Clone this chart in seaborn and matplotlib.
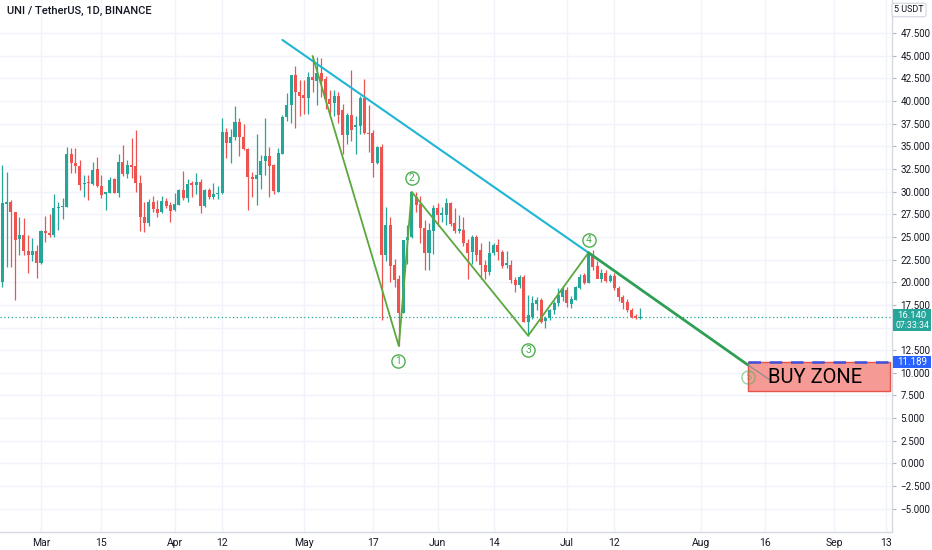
import matplotlib
matplotlib.use("Agg")
import matplotlib.pyplot as plt
import matplotlib.dates as mdates
from matplotlib.patches import Rectangle
import numpy as np
import pandas as pd
import seaborn as sns

# Daily candles UNI / USDT, first candle on 2021-02-20
start = "2021-02-20"
opens = [20.06, 28.6, 28.8, 27.7, 24.8, 25.2, 23.5, 23.0, 23.5, 22.1,
         25.7, 25.45, 25.2, 28.2, 28.3, 28.3, 34.2, 33.2, 32.8, 30.8,
         30.95, 30.85, 32.5, 30.6, 29.7, 29.9, 31.35, 29.8, 33.3, 31.9,
         32.9, 32.8, 30.95, 27.2, 26.5, 28.8, 28.1, 27.7, 29.0, 28.5,
         27.95, 28.55, 30.2, 29.3, 30.95, 30.7, 31.1, 28.45, 30.2, 29.45,
         29.7, 29.8, 36.6, 35.4, 36.0, 37.7, 36.05, 34.7, 31.65, 31.35,
         31.8, 33.4, 33.9, 32.9, 30.0, 34.2, 38.2, 39.55, 42.9, 41.0,
         40.7, 40.3, 42.65, 42.25, 43.05, 42.4, 40.2, 39.75, 40.5, 39.0,
         36.25, 38.45, 37.1, 37.25, 40.3, 36.5, 36.5, 33.2, 34.95, 23.0,
         26.3, 21.9, 20.3, 16.65, 24.65, 25.0, 29.45, 28.6, 25.95, 23.2,
         25.6, 28.15, 27.4, 27.4, 28.7, 26.5, 25.6, 25.75, 24.3, 23.35,
         25.0, 23.55, 21.9, 21.15, 23.25, 24.1, 23.35, 21.9, 21.9, 20.25,
         19.7, 20.6, 15.65, 16.2, 17.65, 18.0, 15.75, 16.0, 16.9, 17.7,
         18.4, 19.15, 17.6, 18.05, 19.35, 20.8, 19.95, 23.0, 21.8, 20.3,
         20.98, 20.17, 20.68, 19.4, 18.4, 17.85, 16.93, 16.27, 16.0]
highs = [32.9, 32.2, 29.1, 27.8, 27.2, 27.1, 25.2, 24.9, 24.1, 25.8,
         27.3, 27.5, 29.7, 28.8, 29.3, 34.9, 34.8, 34.8, 33.5, 31.8,
         31.8, 33.3, 33.8, 31.8, 30.0, 31.6, 31.5, 34.2, 35.1, 33.5,
         35.9, 36.8, 31.8, 28.9, 29.2, 29.5, 29.1, 29.5, 29.3, 28.9,
         29.9, 30.3, 32.3, 31.4, 31.2, 32.1, 31.35, 30.3, 30.4, 31.0,
         30.6, 38.1, 37.0, 36.9, 39.4, 38.1, 37.5, 34.8, 32.2, 36.4,
         34.0, 38.1, 34.9, 33.1, 34.8, 38.5, 40.9, 42.9, 43.9, 42.3,
         42.3, 43.2, 44.97, 44.9, 44.8, 42.8, 41.2, 41.2, 41.0, 39.7,
         38.7, 43.4, 38.3, 40.55, 42.4, 39.55, 36.8, 35.05, 35.3, 28.3,
         27.2, 22.6, 20.8, 24.7, 26.3, 29.99, 29.99, 29.5, 26.85, 26.55,
         28.5, 28.7, 28.3, 29.25, 28.9, 28.15, 27.4, 27.2, 24.8, 25.2,
         25.2, 24.3, 22.5, 24.5, 24.3, 24.75, 23.6, 23.4, 22.5, 20.6,
         20.8, 20.8, 18.6, 18.5, 18.4, 18.3, 16.3, 17.0, 17.9, 19.4,
         19.5, 19.5, 18.5, 19.6, 20.9, 21.0, 23.26, 23.6, 22.3, 21.5,
         21.3, 20.9, 21.0, 19.6, 18.6, 18.2, 17.2, 16.5, 17.1]
lows = [19.5, 21.7, 21.7, 18.0, 23.0, 23.0, 21.0, 22.3, 20.5, 22.0,
        24.4, 25.0, 25.0, 25.8, 27.0, 28.3, 32.0, 32.1, 30.2, 29.4,
        29.1, 30.7, 30.5, 29.3, 28.0, 29.8, 29.8, 29.4, 31.7, 31.5,
        31.5, 30.0, 25.6, 25.5, 26.2, 27.8, 27.2, 27.6, 28.2, 26.6,
        27.9, 28.5, 29.1, 28.9, 29.4, 29.7, 27.6, 28.3, 29.2, 29.2,
        29.2, 29.75, 33.7, 33.2, 35.7, 33.9, 34.6, 28.0, 29.4, 28.5,
        30.3, 31.85, 29.4, 29.7, 29.95, 34.1, 37.8, 37.6, 37.0, 38.3,
        38.6, 38.6, 41.0, 39.6, 40.4, 39.1, 38.6, 38.4, 37.6, 34.1,
        35.3, 35.6, 34.1, 36.4, 36.4, 34.4, 31.6, 33.0, 15.8, 22.3,
        20.0, 19.5, 12.95, 16.6, 22.0, 24.9, 27.7, 24.3, 21.4, 21.3,
        23.1, 26.15, 26.6, 26.3, 26.15, 25.4, 25.4, 23.95, 20.4, 22.0,
        22.3, 20.35, 20.35, 20.75, 23.0, 22.5, 21.6, 21.6, 19.9, 18.9,
        19.35, 15.6, 14.1, 15.9, 16.9, 15.5, 14.9, 15.8, 16.5, 17.4,
        17.9, 17.3, 17.2, 18.0, 19.2, 19.8, 19.95, 21.4, 20.5, 20.0,
        20.0, 20.0, 19.1, 17.9, 17.0, 16.7, 16.0, 15.9, 15.9]
closes = [28.7, 28.8, 27.7, 24.66, 25.2, 23.4, 23.0, 23.5, 22.1, 25.7,
          25.4, 25.2, 28.2, 28.3, 28.4, 34.2, 33.2, 32.8, 30.7, 30.95,
          30.9, 32.4, 30.6, 29.6, 30.0, 31.3, 29.9, 33.3, 31.9, 32.9,
          32.75, 30.9, 27.2, 26.5, 28.8, 28.05, 27.6, 29.0, 28.4, 27.9,
          28.6, 30.2, 29.3, 30.85, 30.7, 31.1, 28.45, 30.2, 29.4, 29.7,
          29.9, 36.6, 35.4, 36.0, 37.7, 36.05, 34.7, 31.65, 31.4, 31.8,
          33.4, 33.9, 32.8, 30.1, 34.3, 38.2, 39.55, 42.9, 41.0, 40.55,
          40.3, 42.7, 42.3, 43.1, 42.25, 40.2, 39.7, 40.5, 38.45, 36.25,
          38.45, 36.8, 37.35, 40.3, 36.5, 36.35, 33.2, 34.95, 23.0, 26.3,
          21.8, 20.25, 16.65, 24.65, 25.0, 29.95, 28.5, 25.95, 23.2, 25.75,
          28.15, 27.4, 27.6, 28.7, 26.4, 25.6, 25.85, 24.3, 23.2, 25.0,
          23.0, 21.9, 21.15, 23.25, 24.1, 23.35, 21.8, 22.15, 20.25, 19.7,
          20.6, 15.65, 16.4, 17.7, 18.0, 15.65, 16.1, 16.9, 17.7, 18.6,
          19.3, 17.7, 18.1, 19.5, 20.6, 19.95, 23.2, 21.65, 20.3, 20.98,
          20.17, 20.68, 19.33, 18.33, 17.74, 16.93, 16.2, 16.0, 16.14]

# Drawings on the chart
trend_dates = ["2021-04-26", "2021-07-06"]
trend_values = [46.74, 23.26]
wave_dates = ["2021-05-03", "2021-05-23", "2021-05-26", "2021-06-22", "2021-07-06"]
wave_values = [44.97, 12.96, 29.97, 14.1, 23.26]
target_date = "2021-08-12"
target_value = 10.86
label_names = ["1", "2", "3", "4", "5"]
label_dates = ["2021-05-22 19:00", "2021-05-26", "2021-06-22", "2021-07-06", "2021-08-12"]
label_values = [11.3, 31.5, 12.5, 24.66, 9.5]
zone_low, zone_high = 8.0, 11.189
zone_end = "2021-09-13 22:00"
last_price = 16.14
tick_dates = ["2021-03-01", "2021-03-15", "2021-04-01", "2021-04-12", "2021-05-01",
              "2021-05-17", "2021-06-01", "2021-06-14", "2021-07-01", "2021-07-12",
              "2021-08-01", "2021-08-16", "2021-09-01", "2021-09-13"]
tick_names = ["Mar", "15", "Apr", "12", "May", "17", "Jun", "14", "Jul", "12",
              "Aug", "16", "Sep", "13"]

UP, DOWN = "#26a69a", "#ef5350"
TXT = "#131722"

sns.set_theme(style="white")
plt.rcParams["font.family"] = ["Roboto", "DejaVu Sans"]


def dn(s):
    return mdates.date2num(pd.Timestamp(s).to_pydatetime())


def fx(px):
    return px / 932


def fy(py):
    return 1 - py / 550


dates = pd.date_range(start, periods=len(opens), freq="D")
x = mdates.date2num(dates.to_pydatetime())
o, h, l, c = map(np.array, (opens, highs, lows, closes))
colors = np.where(c >= o, UP, DOWN)

fig = plt.figure(figsize=(9.32, 5.5), dpi=100)
ax = fig.add_axes([0, 18 / 550, 892 / 932, 532 / 550])

# grid
for v in np.arange(-5, 47.6, 2.5):
    ax.axhline(v, color="#f0f3fa", lw=1, zorder=0)
for d in tick_dates:
    ax.axvline(dn(d), color="#f0f3fa", lw=1, zorder=0)

# candles
ax.vlines(x, l, h, colors=colors, lw=0.9, zorder=2)
body = np.maximum(np.abs(c - o), 0.15)
ax.bar(x, body, bottom=np.minimum(o, c), width=0.7, color=colors, linewidth=0, zorder=3)

# last price line
ax.axhline(last_price, color=UP, lw=0.9, ls=(0, (1, 2)), zorder=1)

# buy zone
z0 = dn(target_date)
ax.add_patch(Rectangle((z0, zone_low), dn(zone_end) - z0, zone_high - zone_low,
                       facecolor="#f59a95", edgecolor="#e5534b", lw=1, zorder=4))
ax.plot([z0, dn("2021-09-20")], [zone_high, zone_high], color="#3f51d8", lw=1.8,
        ls=(0, (5, 3.5)), zorder=5)
ax.text(dn("2021-08-16 14:00"), 9.5, "BUY ZONE", fontsize=14.5, color="black",
        va="center", ha="left", zorder=7)

# trend lines
sns.lineplot(x=[dn(d) for d in trend_dates], y=trend_values, color="#1fb5d5", lw=1.5,
             ax=ax, sort=False, estimator=None, zorder=6)
sns.lineplot(x=[dn(d) for d in wave_dates], y=wave_values, color="#5aa83e", lw=1.3,
             ax=ax, sort=False, estimator=None, zorder=6)
sns.lineplot(x=[dn(wave_dates[-1]), z0], y=[wave_values[-1], target_value], color="#2e9f55",
             lw=2, ax=ax, sort=False, estimator=None, zorder=6)
ax.plot([z0, dn("2021-08-17 03:00")], [target_value, 9.2], color="#8a8a8a", lw=0.8, zorder=6)

# wave labels
for i, (name, d, v) in enumerate(zip(label_names, label_dates, label_values)):
    last = i == len(label_names) - 1
    ax.plot(dn(d), v, "o", ms=9.5, mfc="none" if last else "white", mec="#4caf50",
            mew=1, alpha=0.55 if last else 1, zorder=8)
    ax.text(dn(d), v, name, fontsize=7.5, color="#4caf50", ha="center", va="center",
            alpha=0.55 if last else 1, zorder=9)

# axes
ax.set_xlim(x[0] - 0.51, x[0] + 206.4)
ax.set_ylim(-7.57, 51.15)
yt = np.arange(-5, 47.6, 2.5)
ax.set_yticks(yt)
# the 15.000 label sits under the last-price badge
ax.set_yticklabels(["" if abs(v - 15) < 1e-9 else f"{v:.3f}".replace("-", "\u2212") for v in yt])
ax.yaxis.tick_right()
ax.tick_params(axis="y", length=3, width=0.8, color="#b2b5be", pad=3, labelsize=7,
               labelcolor=TXT)
ax.set_xticks([dn(d) for d in tick_dates])
ax.set_xticklabels(tick_names)
ax.tick_params(axis="x", length=0, pad=4, labelsize=7.5, labelcolor=TXT)
for s in ["left", "top"]:
    ax.spines[s].set_visible(False)
for s in ["bottom", "right"]:
    ax.spines[s].set_color("#d6d9e0")
    ax.spines[s].set_linewidth(1)

# title
fig.text(fx(7), fy(11), "UNI / TetherUS, 1D, BINANCE", fontsize=8, color=TXT,
         va="center", ha="left", weight="medium")
fig.text(fx(909), fy(10), "5 USDT", fontsize=6.5, color=TXT, va="center", ha="center",
         bbox=dict(boxstyle="round,pad=0.25", fc="white", ec="#d1d4dc", lw=0.8))

# price scale labels
fig.patches.append(Rectangle((fx(893), fy(331)), fx(38), 22 / 550, transform=fig.transFigure,
                             facecolor=UP, edgecolor="none"))
fig.text(fx(912), fy(315), f"{last_price:.3f}", fontsize=6.8, color="white", ha="center", va="center")
fig.text(fx(912), fy(325.5), "07:33:34", fontsize=6.3, color="white", ha="center", va="center")
fig.patches.append(Rectangle((fx(893), fy(368)), fx(38), 12 / 550, transform=fig.transFigure,
                             facecolor="#2962ff", edgecolor="none"))
fig.text(fx(912), fy(362), f"{zone_high:.3f}", fontsize=7, color="white", ha="center", va="center")

fig.savefig("out.png", dpi=100)
